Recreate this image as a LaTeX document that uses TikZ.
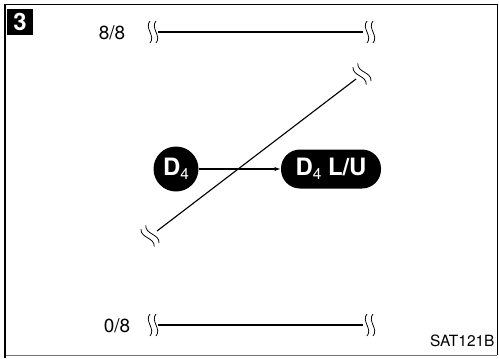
\documentclass[tikz,border=0pt]{standalone}
\usepackage{fontspec}
\setmainfont{TeX Gyre Heros}
\usepackage{tikz}
\usetikzlibrary{arrows.meta}
\newcommand{\subfour}{\raisebox{-0.3ex}{\fontsize{22}{24}\selectfont\mdseries 4}}
\tikzset{
  lbl/.style={font=\fontsize{27}{30}\selectfont},
  gear/.style={
    circle, fill=black, text=white,
    minimum size=2.25cm, inner sep=0pt,
    font=\fontsize{34}{38}\selectfont\bfseries
  },
  gearlock/.style={
    rounded corners=0.95cm, fill=black, text=white,
    minimum width=5cm, minimum height=1.95cm, inner sep=0pt,
    font=\fontsize{34}{38}\selectfont\bfseries
  },
  bar/.style={line width=1.6pt},
  brk/.pic={
    \draw[line width=1.1pt] (-3,-11) .. controls (-9,-4) and (3,4) .. (-3,11);
    \draw[line width=1.1pt] (3,-11) .. controls (-3,-4) and (9,4) .. (3,11);
  }
}
\begin{document}
\begin{tikzpicture}[x=0.05cm, y=-0.05cm]
  \useasboundingbox (0,0) rectangle (499,358);
  % frame
  \draw[line width=0.8pt] (5,4) -- (497,4) -- (497,355);
  \draw[line width=0.8pt, black!55] (5,355) -- (497,355);
  \draw[line width=2.2pt] (5,4) -- (5,358);
  \node[fill=black, text=white, minimum size=1.3cm, inner sep=0pt,
        font=\fontsize{34}{36}\selectfont\bfseries] (num) at (20,22) {3};

  % 8/8
  \node[lbl] (full) at (112,33) {8/8};
  \coordinate (full l) at (158,32);
  \coordinate (full r) at (363,32);
  \draw[bar] (full l) -- (full r);
  \pic at (153,32) {brk};
  \pic at (370,32) {brk};

  % 0/8
  \node[lbl] (empty) at (117,326) {0/8};
  \coordinate (empty l) at (158,325);
  \coordinate (empty r) at (363,325);
  \draw[bar] (empty l) -- (empty r);
  \pic at (153,325) {brk};
  \pic at (370,325) {brk};

  % shift line
  \coordinate (dia l) at (157,231);
  \coordinate (dia r) at (356,79);
  \draw[bar] (dia l) -- (dia r);
  \pic[rotate=37] at (150,236) {brk};
  \pic[rotate=37] at (362,74) {brk};

  % D4 -> D4 L/U
  \node[gear] (d4) at (176,169) {D\subfour};
  \node[gearlock] (d4lu) at (331,169) {D\subfour\ L/U};
  \draw[bar, -{Latex[length=9pt, width=6pt]}] (d4) -- (d4lu);

  \node[font=\fontsize{22}{25}\selectfont, anchor=east] (code) at (497,341) {SAT121B};
\end{tikzpicture}
\end{document}
